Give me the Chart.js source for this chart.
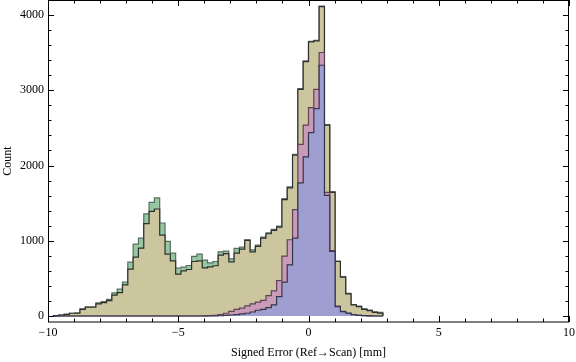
<!DOCTYPE html>
<html>
<head>
<meta charset="utf-8">
<script src="https://cdn.jsdelivr.net/npm/chart.js@4.4.0/dist/chart.umd.min.js"></script>
<style>
  html, body { margin: 0; padding: 0; background: #fff; }
  #wrap { width: 576px; height: 362px; }
</style>
</head>
<body>
<div id="wrap"><canvas id="hist" width="576" height="362"></canvas></div>
<script>
// histogram bins (mm)
const binStart = -9.792;
const binWidth = 0.204;

// counts per bin, left to right (62 bins)
const greenCounts = [
  5, 13, 22, 36, 40, 95, 120, 120, 173, 191,
  222, 307, 356, 449, 716, 956, 1036, 1356, 1511, 1569,
  1236, 991, 836, 636, 649, 671, 791, 822, 742, 705,
  724, 853, 862, 760, 898, 916, 1013, 880, 942, 1049,
  1105, 1150, 1195, 1560, 1715, 2150, 3022, 3390, 3650, 3665,
  4120, 2545, 1653, 730, 522, 300, 152, 130, 95, 78,
  56, 49
];
const tanCounts = [
  5, 13, 22, 36, 36, 89, 116, 116, 160, 178,
  204, 276, 311, 413, 622, 782, 902, 1227, 1391, 1422,
  1076, 822, 733, 556, 600, 618, 724, 733, 640, 652,
  668, 810, 830, 720, 836, 889, 1004, 853, 924, 1036,
  1093, 1138, 1182, 1547, 1702, 2137, 3013, 3382, 3644, 3658,
  4111, 2537, 1644, 724, 516, 293, 147, 124, 89, 71,
  49, 36
];
const pinkCounts = [
  0, 0, 0, 0, 0, 0, 0, 0, 0, 0,
  0, 0, 0, 0, 0, 0, 0, 0, 0, 0,
  0, 0, 0, 0, 0, 0, 0, 0, 2, 4,
  9, 18, 36, 60, 89, 105, 135, 160, 185, 208,
  270, 335, 471, 795, 1013, 1413, 2280, 2538, 2769, 3013,
  3502, 1644, 870, 130, 62, 38, 20, 10, 5, 2,
  0, 0
];
const blueCounts = [
  0, 0, 0, 0, 0, 0, 0, 0, 0, 0,
  0, 0, 0, 0, 0, 0, 0, 0, 0, 0,
  0, 0, 0, 0, 0, 0, 0, 0, 0, 0,
  0, 3, 7, 13, 18, 27, 36, 53, 76, 89,
  111, 147, 258, 450, 680, 1036, 1769, 2116, 2436, 2756,
  3333, 1604, 860, 124, 58, 36, 18, 8, 4, 2,
  0, 0
];

// axis ranges and tick labels
const xMin = -10, xMax = 10, xMinor = 1;
const yMin = -80, yMax = 4200, yMinor = 200;
const xTickLabels = [-10, -5, 0, 5, 10];
const yTickLabels = [0, 1000, 2000, 3000, 4000];

Chart.defaults.font.family = '"Liberation Serif", "Times New Roman", serif';
Chart.defaults.font.size = 12;
Chart.defaults.color = '#000';

// step outline: rise from 0 at first edge, hold each count over its bin, drop at last edge
function toSteps(counts) {
  const pts = [{ x: binStart, y: 0 }];
  counts.forEach((c, i) => pts.push({ x: binStart + i * binWidth, y: c }));
  pts.push({ x: binStart + counts.length * binWidth, y: 0 });
  return pts;
}

function series(counts, fill, edge) {
  return {
    data: toSteps(counts),
    stepped: 'before',
    fill: 'origin',
    backgroundColor: fill,
    borderColor: edge,
    borderWidth: 1.2,
    pointRadius: 0,
    tension: 0,
  };
}

const minus = v => (v < 0 ? '\u2212' + Math.abs(v) : String(v));

// inward ticks on all four sides plus the frame
const frameTicks = {
  id: 'frameTicks',
  afterDraw(chart) {
    const { ctx, chartArea: a, scales: { x, y } } = chart;
    ctx.save();
    ctx.strokeStyle = '#000';
    ctx.lineWidth = 1;
    ctx.beginPath();
    for (let v = xMin; v <= xMax; v += xMinor) {
      const px = Math.round(x.getPixelForValue(v)) + 0.5;
      const len = xTickLabels.includes(v) ? 6 : 3.5;
      ctx.moveTo(px, a.bottom); ctx.lineTo(px, a.bottom - len);
      ctx.moveTo(px, a.top); ctx.lineTo(px, a.top + len);
    }
    for (let v = 0; v <= yMax; v += yMinor) {
      const py = Math.round(y.getPixelForValue(v)) + 0.5;
      const len = yTickLabels.includes(v) ? 6 : 3.5;
      ctx.moveTo(a.left, py); ctx.lineTo(a.left + len, py);
      ctx.moveTo(a.right, py); ctx.lineTo(a.right - len, py);
    }
    ctx.stroke();
    ctx.strokeRect(a.left + 0.5, a.top + 0.5, a.right - a.left - 1, a.bottom - a.top - 0.5);
    ctx.restore();
  },
};

new Chart(document.getElementById('hist').getContext('2d'), {
  type: 'line',
  data: {
    datasets: [
      series(blueCounts, '#9e9fd0', '#34344c'),
      series(pinkCounts, '#c99bb9', '#5e4256'),
      series(tanCounts, '#ccc69f', '#2f2f2f'),
      series(greenCounts, '#96c6a2', '#5a6e5e'),
    ],
  },
  options: {
    responsive: false,
    animation: false,
    layout: { autoPadding: false, padding: { left: 0, right: 7, top: 0, bottom: 0 } },
    plugins: { legend: { display: false }, tooltip: { enabled: false } },
    scales: {
      x: {
        type: 'linear',
        min: xMin,
        max: xMax,
        grid: { display: false, drawTicks: false },
        border: { display: false },
        ticks: { padding: 4, maxRotation: 0, autoSkip: false, callback: minus },
        afterBuildTicks: s => { s.ticks = xTickLabels.map(v => ({ value: v })); },
        title: { display: true, text: 'Signed Error (Ref\u2192Scan) [mm]', padding: { top: 2, bottom: 2 } },
        afterFit: s => { s.height = 40; s.paddingLeft = 0; s.paddingRight = 0; },
      },
      y: {
        min: yMin,
        max: yMax,
        grid: { display: false, drawTicks: false },
        border: { display: false },
        ticks: { padding: 4, autoSkip: false, callback: minus },
        afterBuildTicks: s => { s.ticks = yTickLabels.map(v => ({ value: v })); },
        title: { display: true, text: 'Count', padding: { top: 1, bottom: 1 } },
        afterFit: s => { s.width = 48; s.paddingTop = 0; s.paddingBottom = 0; },
      },
    },
  },
  plugins: [frameTicks],
});
</script>
</body>
</html>
